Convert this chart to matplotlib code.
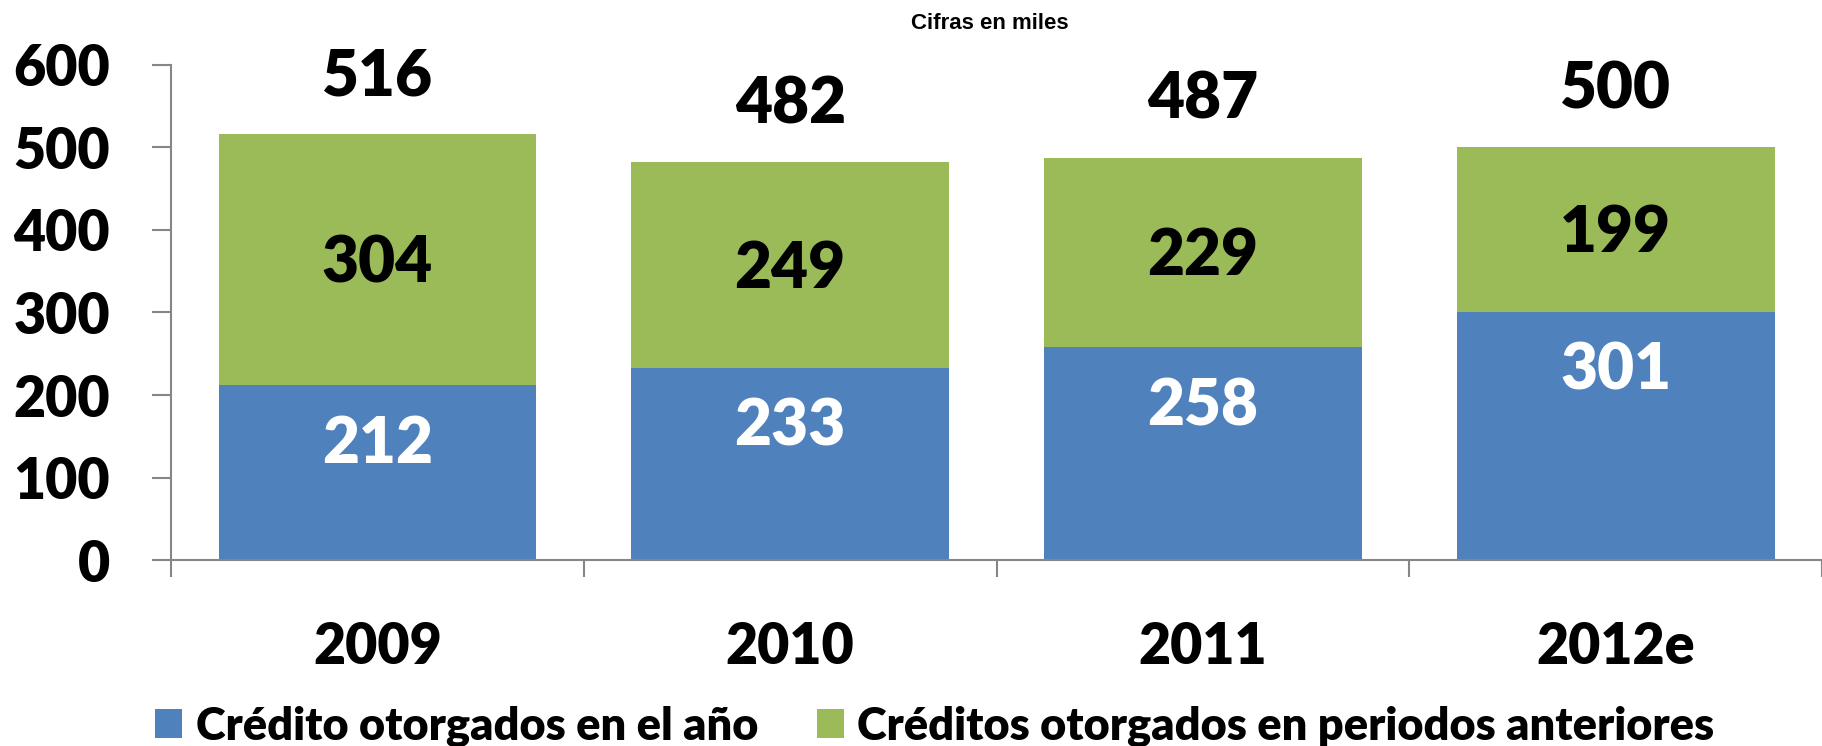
import matplotlib.pyplot as plt  # Graficar
import numpy as np  # Trabajar con arreglos

# Datos del gráfico (cifras en miles)
anios = ["2009", "2010", "2011", "2012e"]
credito_anio = [212, 233, 258, 301]
credito_anteriores = [304, 249, 229, 199]
totales = [516, 482, 487, 500]
serie_nombres = ["Crédito otorgados en el año", "Créditos otorgados en periodos anteriores"]
y_ticks = [0, 100, 200, 300, 400, 500, 600]

azul = "#4F81BD"
verde = "#9BBB59"
gris = "#868686"

plt.rcParams['font.family'] = ['Lato', 'DejaVu Sans']

fig = plt.figure(figsize=(18.22, 7.46), dpi=100)
ax = fig.add_axes([0.0939, 0.2493, 0.9061, 0.6636])

x = np.arange(len(anios))
ancho = 0.77

# Se dibujan las barras apiladas
b1 = ax.bar(x, credito_anio, ancho, color=azul, label=serie_nombres[0])
b2 = ax.bar(x, credito_anteriores, ancho, bottom=credito_anio, color=verde, label=serie_nombres[1])

# Etiquetas dentro y encima de las barras
for i in range(len(anios)):
    ax.text(x[i], credito_anio[i] - 72, str(credito_anio[i]), ha="center", va="center",
            color="white", fontsize=46, fontweight="heavy")
    ax.text(x[i], credito_anio[i] + credito_anteriores[i] / 2 - 5, str(credito_anteriores[i]),
            ha="center", va="center", color="black", fontsize=46, fontweight="heavy")
    ax.text(x[i], totales[i] + 70, str(totales[i]), ha="center", va="center",
            color="black", fontsize=46, fontweight="heavy")

# Ejes
ax.set_xlim(-0.5, 3.5)
ax.set_ylim(0, 600)
ax.spines["top"].set_visible(False)
ax.spines["right"].set_visible(False)
ax.spines["left"].set_color(gris)
ax.spines["bottom"].set_color(gris)
ax.spines["left"].set_linewidth(1.5)
ax.spines["bottom"].set_linewidth(1.5)

ax.set_yticks(y_ticks)
ax.set_yticklabels([str(v) for v in y_ticks], fontsize=40, fontweight="heavy")
ax.tick_params(axis="y", length=14, width=1.5, color=gris, pad=30)

ax.set_xticks(np.arange(-0.5, 4.0, 1.0))
ax.set_xticklabels([])
ax.tick_params(axis="x", which="major", length=12, width=1.5, color=gris)
ax.set_xticks(x, minor=True)
ax.set_xticklabels(anios, minor=True, fontsize=40, fontweight="heavy")
ax.tick_params(axis="x", which="minor", length=0, pad=44)

# Título
fig.text(0.543, 0.969, "Cifras en miles", ha="center", va="center", fontsize=16,
         fontweight="bold", family=["Liberation Sans", "DejaVu Sans"])

# Leyenda
fig.legend(handles=[b1, b2], loc="center", bbox_to_anchor=(0.513, 0.027), ncol=2,
           frameon=False, prop={"weight": "heavy", "size": 32.5},
           handlelength=0.6, handleheight=0.6, handletextpad=0.3, columnspacing=1.3,
           borderaxespad=0)

fig.savefig("out.png", dpi=100)
